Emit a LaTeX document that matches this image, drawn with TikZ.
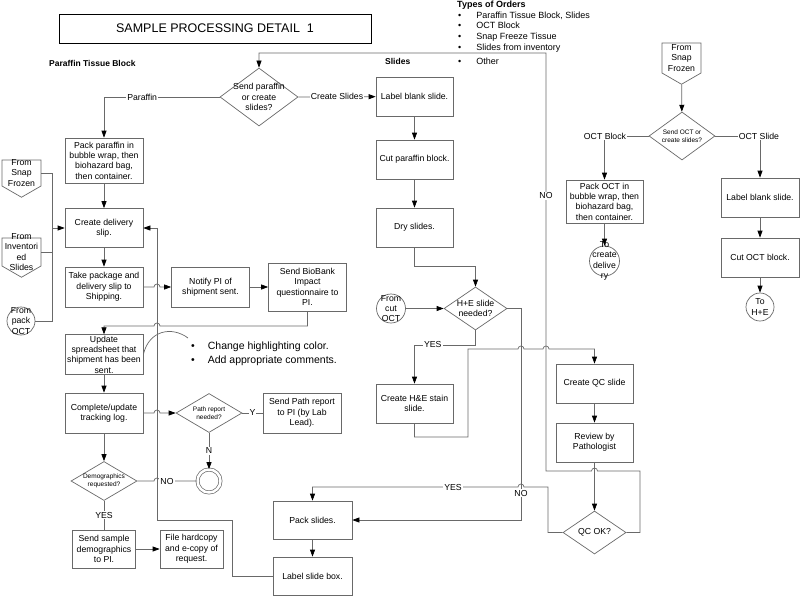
\documentclass[tikz,border=0pt]{standalone}
\usepackage{fontspec}
\setmainfont{Liberation Sans}
\usetikzlibrary{arrows.meta,shapes.geometric,shapes.symbols}
\definecolor{edge}{RGB}{105,105,105}

% little hop where one connector crosses another
\newcommand{\hopr}[2]{-- (#1-3,#2) arc[start angle=180,end angle=360,radius=3]}
\newcommand{\hopl}[2]{-- (#1+3,#2) arc[start angle=0,end angle=-180,radius=3]}

\begin{document}
\begin{tikzpicture}[x=1pt,y=-1pt]
	\tikzset{line/.style={draw=edge,line width=0.7pt}}
	\tikzset{arrow/.style={line,-{Triangle[length=7pt,width=5pt,color=black]}}}
	\tikzset{txt/.style={font=\fontsize{8.7}{10.4}\selectfont,align=center}}
	\tikzset{small/.style={font=\fontsize{6.5}{8}\selectfont,align=center}}
	\tikzset{box/.style={txt,line,fill=white,minimum width=78pt,minimum height=39pt,inner sep=1pt}}
	\tikzset{dec/.style={diamond,line,fill=white,inner sep=0pt,label={[txt]center:#1}}}
	\tikzset{sdec/.style={diamond,line,fill=white,inner sep=0pt,label={[small]center:#1}}}
	\tikzset{conn/.style={circle,line,fill=white,inner sep=0pt,label={[txt]center:#1}}}
	\tikzset{offpage/.style={signal,signal to=south,signal pointer angle=120,line,fill=white,inner sep=0pt,minimum width=39pt,label={[txt]center:#1}}}
	\tikzset{lbl/.style={txt,fill=white,inner sep=1pt}}

	\useasboundingbox (0,0) rectangle (800,597);

	% headings
	\node[draw,line width=0.8pt,minimum width=312pt,minimum height=29pt,font=\fontsize{12.5}{15}\selectfont] (title) at (215,28.5) {SAMPLE PROCESSING DETAIL\ \ 1};
	\node[font=\bfseries\fontsize{8.5}{10}\selectfont,anchor=west,inner sep=0pt] (ptb) at (49,63) {Paraffin Tissue Block};
	\node[font=\bfseries\fontsize{8.5}{10}\selectfont,anchor=west,inner sep=0pt] (sld) at (385,61) {Slides};
	\node[anchor=north west,align=left,inner sep=0pt,font=\fontsize{9}{10.6}\selectfont] (orders) at (457,1) {\textbf{Types of Orders}\\
		\hspace{1pt}\textbullet\hspace{15pt}Paraffin Tissue Block, Slides\\
		\hspace{1pt}\textbullet\hspace{15pt}OCT Block\\
		\hspace{1pt}\textbullet\hspace{15pt}Snap Freeze Tissue\\
		\hspace{1pt}\textbullet\hspace{15pt}Slides from inventory\\[3.5pt]
		\hspace{1pt}\textbullet\hspace{15pt}Other};
	\node[anchor=west,align=left,inner sep=0pt,font=\fontsize{10.5}{14}\selectfont] (note) at (191,354) {\textbullet\hspace{13pt}Change highlighting color.\\\textbullet\hspace{13pt}Add appropriate comments.};

	% paraffin block
	\node[dec={Send paraffin\\or create\\slides?},minimum width=78pt,minimum height=58pt] (d1) at (259,97) {};
	\node[box,minimum height=45pt] (pack) at (104,160.5) {Pack paraffin in\\bubble wrap, then\\biohazard bag,\\then container.};
	\node[box] (cds) at (104,228) {Create delivery\\slip.};
	\node[box,minimum height=40pt] (take) at (104,287) {Take package and\\delivery slip to\\Shipping.};
	\node[box,minimum height=40pt] (notify) at (210.5,287) {Notify PI of\\shipment sent.};
	\node[box,minimum height=48pt] (bio) at (307.5,287) {Send BioBank\\Impact\\questionnaire to\\PI.};
	\node[box] (upd) at (104,354.5) {Update\\spreadsheet that\\shipment has been\\sent.};
	\node[box,minimum height=40pt] (comp) at (104,413) {Complete/update\\tracking log.};
	\node[sdec={Path report\\needed?},minimum width=66pt,minimum height=39pt] (pr) at (209,413) {};
	\node[box,minimum height=40pt] (spr) at (302,413) {Send Path report\\to PI (by Lab\\Lead).};
	\node[circle,line,double,double distance=2.5pt,minimum size=23pt,inner sep=0pt] (endc) at (209,481) {};
	\node[sdec={Demographics\\requested?},minimum width=66pt,minimum height=39pt] (demo) at (104,481) {};
	\node[box,minimum width=63pt,minimum height=38pt] (ssd) at (104,549) {Send sample\\demographics\\to PI.};
	\node[box,minimum width=63pt,minimum height=38pt] (fhc) at (191.5,549) {File hardcopy\\and e-copy of\\request.};

	% incoming connectors
	\node[offpage={From\\Snap\\Frozen},minimum height=26pt] (fsf1) at (21.5,173) {};
	\node[offpage={From\\Inventori\\ed\\Slides},minimum height=28pt] (finv) at (21.5,252) {};
	\node[conn={From\\pack\\OCT},minimum size=28pt] (fpo) at (21,321) {};
	\coordinate (trunk) at (52,228);

	% slides
	\node[box,minimum width=77pt] (lbs) at (414.5,96.5) {Label blank slide.};
	\node[box,minimum width=77pt] (cpb) at (414.5,159.5) {Cut paraffin block.};
	\node[box,minimum width=77pt] (dry) at (414.5,227.5) {Dry slides.};
	\node[dec={H+E slide\\needed?},minimum width=63pt,minimum height=43pt] (he) at (475.5,308.5) {};
	\node[conn={From\\cut\\OCT},minimum size=29pt] (fco) at (391,308.5) {};
	\node[box,minimum width=77pt] (heb) at (414.5,403.5) {Create H\&E stain\\slide.};
	\node[box,minimum width=77pt] (qcs) at (594.5,383.5) {Create QC slide};
	\node[box,minimum width=77pt] (rev) at (594.5,442.5) {Review by\\Pathologist};
	\node[dec={QC OK?},minimum width=63pt,minimum height=43pt] (qc) at (594.5,532.5) {};
	\node[box,minimum width=79pt,minimum height=38pt] (packs) at (312.5,520) {Pack slides.};
	\node[box,minimum width=79pt,minimum height=38pt] (lsb) at (312.5,576) {Label slide box.};

	% snap frozen
	\node[offpage={From\\Snap\\Frozen},minimum height=30pt] (fsf2) at (681.5,58) {};
	\node[sdec={Send OCT or\\create slides?},minimum width=66pt,minimum height=48pt] (d2) at (682,136) {};
	\node[box,minimum width=77pt,minimum height=43pt] (poct) at (604.5,201.5) {Pack OCT in\\bubble wrap, then\\biohazard bag,\\then container.};
	\node[conn={To\\create\\delive\\ry},minimum size=30pt] (tcd) at (604.5,261) {};
	\node[box] (lbs2) at (760,197.5) {Label blank slide.};
	\node[box] (cob) at (760,257.5) {Cut OCT block.};
	\node[conn={To\\H+E},minimum size=28pt] (the) at (760,307) {};

	% paraffin flow
	\draw[arrow] (d1.east) -- node[lbl]{Create Slides} (lbs);
	\draw[arrow] (d1.west) -- node[lbl,pos=0.67]{Paraffin} (104,97) -- (pack);
	\draw[arrow] (pack) -- (cds);
	\draw[arrow] (cds) -- (take);
	\draw[arrow] (take.east) \hopr{157}{287} -- (notify);
	\draw[arrow] (notify) -- (bio);
	\draw[arrow] (bio.south) -- (307.5,326) \hopl{157}{326} -- (104,326) -- (upd);
	\draw[line] (upd.east) .. controls (149,330) and (172,326) .. (188,338);
	\draw[arrow] (upd) -- (comp);
	\draw[arrow] (comp.east) \hopr{157}{413} -- (pr);
	\draw[line] (pr) -- node[lbl]{Y} (spr);
	\draw[arrow] (pr) -- node[lbl]{N} (endc);
	\draw[arrow] (comp) -- (demo);
	\draw[line] (demo.east) \hopr{157}{481} -- (endc);
	\node[lbl] (no3) at (167,481) {NO};
	\draw[line] (demo) -- node[lbl]{YES} (ssd);
	\draw[arrow] (ssd) -- (fhc);
	\draw[line] (fsf1.east) -| (52,321) -- (fpo);
	\draw[line] (finv.east) -| (52,258);
	\draw[arrow] (trunk) -- (cds);

	% slide flow
	\draw[arrow] (lbs) -- (cpb);
	\draw[arrow] (cpb) -- (dry);
	\draw[arrow] (dry) -- (414.5,266) -| (he);
	\draw[arrow] (fco) -- (he);
	\draw[arrow] (he.south) -- (475.5,345) -- node[lbl,pos=0.7]{YES} (414.5,345) -- (heb);
	\draw[arrow] (he.east) -- (521,308.5) -- (521,520) -- (packs);
	\node[lbl] (no2) at (521,493) {NO};
	\draw[arrow] (heb.south) -- (414.5,437) -- (468,437) -- (468,349) \hopr{521}{349} \hopr{546}{349} -- (594.5,349) -- (qcs);
	\draw[arrow] (qcs) -- (rev);
	\draw[arrow] (rev) -- (qc);
	\draw[arrow] (qc.west) -- (548,532.5) -- (548,487) \hopl{521}{487} -- (312.5,487) -- (packs);
	\node[lbl] (yes2) at (453,487) {YES};
	\draw[arrow] (qc.east) -- (640,532.5) -- (640,471) \hopl{594.5}{471} -- (546,471) -- (546,53) -- (259,53) -- (d1);
	\node[lbl] (no1) at (546,196) {NO};
	\draw[arrow] (packs) -- (lsb);
	\draw[arrow] (lsb.west) -- (232,576) -- (232,520) -- (157,520) -- (157,228) -- (cds);

	% snap frozen flow
	\draw[arrow] (fsf2) -- (d2);
	\draw[arrow] (d2.west) -- (604.5,136) -- (poct);
	\node[lbl] (octb) at (605,136) {OCT Block};
	\draw[arrow] (d2.east) -- (760,136) -- (lbs2);
	\node[lbl] (octs) at (759,136) {OCT Slide};
	\draw[arrow] (poct) -- (tcd);
	\draw[arrow] (lbs2) -- (cob);
	\draw[arrow] (cob) -- (the);
\end{tikzpicture}
\end{document}
